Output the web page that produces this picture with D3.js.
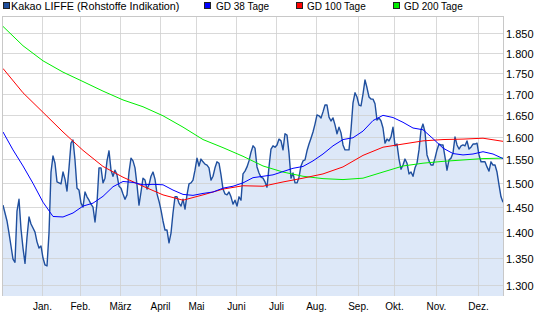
<!DOCTYPE html>
<html>
<head>
<meta charset="utf-8">
<script src="https://cdn.jsdelivr.net/npm/d3@7/dist/d3.min.js"></script>
<style>
  html, body { margin: 0; padding: 0; background: #fff; }
  svg { display: block; }
  text { font-family: "Liberation Sans", Arial, sans-serif; fill: #000; }
</style>
</head>
<body>
<svg id="chart" width="545" height="330"></svg>
<script>
// Kakao LIFFE, Schlusskurse je Handelstag (GBP/t)
const price = [
  1455,1439,1423,1399,1374,1349,1343,1443,1467,1407,
  1370,1341,1391,1431,1417,1409,1401,1382,1370,1374,
  1351,1338,1336,1399,1524,1559,1543,1503,1501,1499,
  1524,1509,1484,1533,1587,1594,1550,1490,1486,1459,
  1451,1482,1472,1465,1457,1451,1421,1459,1533,1533,
  1501,1511,1548,1570,1528,1515,1528,1518,1494,1490,
  1478,1467,1476,1524,1554,1548,1533,1497,1455,1482,
  1511,1507,1488,1497,1515,1524,1509,1478,1463,1445,
  1423,1405,1405,1380,1399,1439,1472,1472,1459,1453,
  1467,1447,1476,1499,1501,1507,1528,1554,1537,1552,
  1546,1541,1539,1533,1507,1515,1533,1546,1543,1518,
  1488,1478,1476,1482,1472,1457,1465,1453,1472,1465,
  1520,1526,1535,1548,1567,1581,1576,1535,1522,1513,
  1511,1503,1492,1535,1574,1581,1578,1583,1596,1592,
  1572,1608,1605,1565,1511,1522,1501,1501,1513,1537,
  1548,1550,1570,1585,1598,1612,1630,1651,1649,1644,
  1658,1674,1674,1646,1637,1644,1628,1608,1623,1610,
  1583,1572,1572,1572,1617,1679,1703,1693,1674,1672,
  1700,1734,1715,1693,1688,1688,1677,1639,1644,1637,
  1621,1587,1596,1592,1601,1623,1581,1585,1552,1530,
  1539,1552,1543,1520,1524,1515,1533,1543,1572,1617,
  1630,1612,1561,1548,1539,1539,1554,1572,1585,1583,
  1583,1556,1528,1550,1554,1565,1601,1583,1574,1581,
  1583,1581,1592,1574,1578,1585,1585,1587,1561,1546,
  1546,1546,1535,1526,1546,1539,1539,1524,1497,1472,
  1461
];

// Gleitende Durchschnitte (GD 38 alle 5 Tage, GD 100 / GD 200 alle 10 Tage)
const gd38 = [
  1612,1572,1537,1500,1461,1432,1431,1439,1453,1459,
  1473,1493,1504,1502,1497,1498,1497,1486,1477,1475,
  1479,1482,1490,1494,1501,1512,1515,1518,1525,1532,
  1536,1548,1563,1581,1595,1599,1614,1638,1650,1645,
  1634,1621,1617,1597,1576,1564,1561,1563,1568,1563,
  1553
];
const gd100 = [
  1762,1703,1657,1612,1571,1536,1513,1494,1476,1465,
  1476,1488,1495,1494,1503,1511,1520,1535,1560,1578,
  1585,1592,1595,1596,1598,1591
];
const gd200 = [
  1869,1819,1781,1753,1730,1707,1686,1670,1649,1623,
  1595,1577,1558,1537,1524,1515,1510,1508,1511,1524,
  1537,1543,1547,1550,1553,1554
];

// Achsenbeschriftung
const months = ["Jan.","Feb.","März","April","Mai","Juni","Juli","Aug.","Sep.","Okt.","Nov.","Dez."];
const monthStart = [20,39,59,79,97,117,137,157,178,196,217,238];
const yTicks = [1300,1350,1400,1450,1500,1550,1600,1650,1700,1750,1800,1850];

const legendLabels = ["Kakao LIFFE (Rohstoffe Indikation)","GD 38 Tage","GD 100 Tage","GD 200 Tage"];
const seriesColors = ["#1f4f9e","#0000ff","#ff0000","#00ee00"];

// ---------------------------------------------------------------
const plot = { left: 3, right: 503, top: 16, bottom: 296 };

const svg = d3.select("#chart");
const de = d3.formatLocale({ decimal: ",", thousands: ".", grouping: [3], currency: ["", " €"] });
const fmt = de.format(",d");

const x = d3.scaleLinear().domain([0, price.length - 1]).range([plot.left, plot.right]);
const y = d3.scaleLog().domain([1300, 1850]).range([285.5, 33.7]);

svg.append("defs").append("clipPath").attr("id", "plotClip")
  .append("rect")
  .attr("x", plot.left).attr("y", plot.top)
  .attr("width", plot.right - plot.left).attr("height", plot.bottom - plot.top);

// Kursfläche
svg.append("path")
  .datum(price)
  .attr("clip-path", "url(#plotClip)")
  .attr("fill", "#dde8f8")
  .attr("d", d3.area().x((d, i) => x(i)).y0(plot.bottom).y1(d => y(d)));

// Gitter
const grid = svg.append("g").attr("stroke", "#cfcfcf").attr("stroke-opacity", 0.8).attr("stroke-width", 1);
grid.selectAll("line.h").data(yTicks).join("line")
  .attr("class", "h")
  .attr("x1", plot.left).attr("x2", plot.right)
  .attr("y1", d => Math.floor(y(d)) + 0.5).attr("y2", d => Math.floor(y(d)) + 0.5);
grid.selectAll("line.v").data(monthStart).join("line")
  .attr("class", "v")
  .attr("y1", plot.top).attr("y2", plot.bottom)
  .attr("x1", d => Math.round(x(d)) - 0.5).attr("x2", d => Math.round(x(d)) - 0.5);

// Rahmen
const frame = svg.append("g").attr("stroke", "#c8c8c8").attr("stroke-width", 1);
frame.append("line").attr("x1", plot.left - 0.5).attr("x2", plot.left - 0.5).attr("y1", plot.top).attr("y2", plot.bottom);
frame.append("line").attr("x1", plot.right + 0.5).attr("x2", plot.right + 0.5).attr("y1", plot.top).attr("y2", plot.bottom);
frame.append("line").attr("x1", plot.left).attr("x2", plot.right).attr("y1", plot.top + 0.5).attr("y2", plot.top + 0.5);

// Linien
const lines = svg.append("g").attr("clip-path", "url(#plotClip)").attr("fill", "none");
lines.append("path")
  .datum(price)
  .attr("stroke", seriesColors[0]).attr("stroke-width", 1.4).attr("stroke-linejoin", "round")
  .attr("d", d3.line().x((d, i) => x(i)).y(d => y(d)));

const maLine = step => d3.line().x((d, i) => x(i * step)).y(d => y(d));
lines.append("path").datum(gd200).attr("stroke", seriesColors[3]).attr("stroke-width", 1).attr("d", maLine(10));
lines.append("path").datum(gd100).attr("stroke", seriesColors[2]).attr("stroke-width", 1).attr("d", maLine(10));
lines.append("path").datum(gd38).attr("stroke", seriesColors[1]).attr("stroke-width", 1).attr("d", maLine(5));

// Y-Achse rechts
svg.append("g").selectAll("text").data(yTicks).join("text")
  .attr("x", 506).attr("y", d => y(d) + 4.5)
  .attr("font-size", "11px")
  .text(d => fmt(d));

// Monatsbeschriftung
svg.append("g").selectAll("text").data(monthStart).join("text")
  .attr("x", d => x(d) - 0.5).attr("y", 310)
  .attr("text-anchor", "middle")
  .attr("font-size", "10px")
  .text((d, i) => months[i]);

// Legende
const legendPos = [[3, 11], [204, 216], [296, 307], [393, 404]];
const lg = svg.append("g");
legendLabels.forEach((label, i) => {
  lg.append("rect")
    .attr("x", legendPos[i][0] + 0.5).attr("y", 2.5)
    .attr("width", 6).attr("height", 6)
    .attr("fill", seriesColors[i]).attr("stroke", "#222").attr("stroke-width", 1);
  lg.append("text")
    .attr("x", legendPos[i][1]).attr("y", 10)
    .attr("font-size", i === 0 ? "10.8px" : "10px")
    .text(label);
});
</script>
</body>
</html>
